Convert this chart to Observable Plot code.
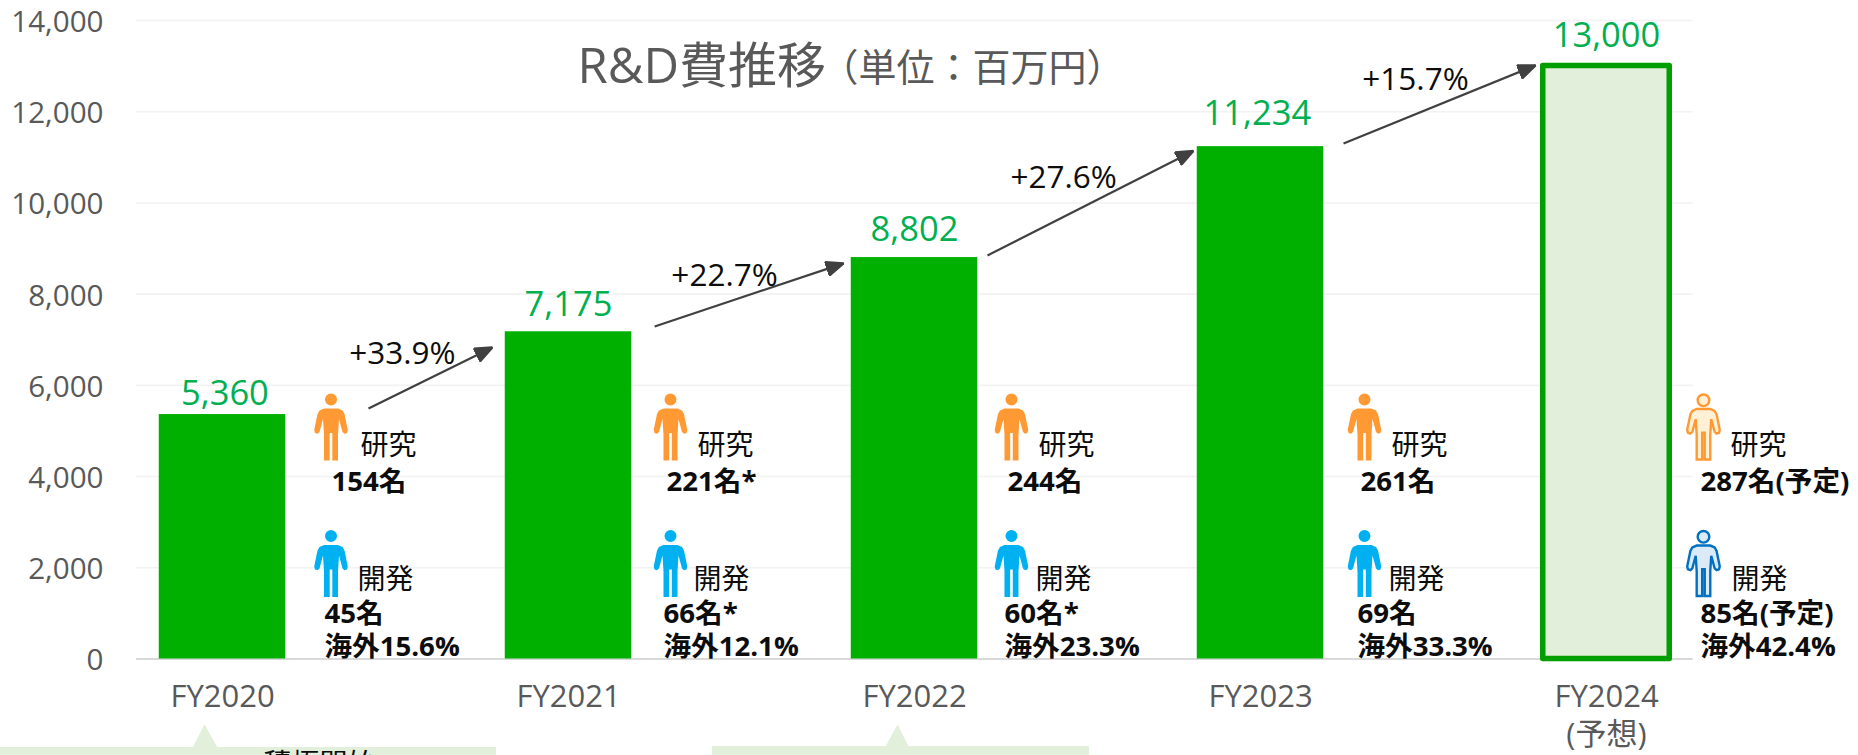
<!DOCTYPE html>
<html lang="ja">
<head>
<meta charset="utf-8">
<script src="https://cdn.jsdelivr.net/npm/d3@7"></script>
<script src="https://cdn.jsdelivr.net/npm/@observablehq/plot@0.6"></script>
<style>
html,body{margin:0;padding:0;background:#fff;overflow:hidden}
svg{display:block}
</style>
</head>
<body>
<div id="chart"></div>
<script>
const yearLabels = ["FY2020","FY2021","FY2022","FY2023","FY2024\n(予想)"];
const yearIndex = [0,1,2,3,4];
const rdCost = [5360,7175,8802,11234,13000];
const yTicks = [0,2000,4000,6000,8000,10000,12000,14000];
const valueLabelX = [0.007,1,2,2.991,4];
const valueLabelY = [5821,7767,9416,11958,13669];

const growthLabels = ["+33.9%","+22.7%","+27.6%","+15.7%"];
const growthLabelX = [0.520,1.451,2.431,3.448];
const growthLabelY = [6680,8410,10540,12700];
const arrowX1 = [0.422,1.249,2.211,3.240];
const arrowY1 = [5494,7292,8849,11305];
const arrowX2 = [0.780,1.795,2.806,3.795];
const arrowY2 = [6831,8674,11140,13016];

const iconX = [0.3136,1.2948,2.2803,3.3006,4.2803];
const researchIconY = 5088, devIconY = 2094;
const researchLabelX = [0.3990,1.3730,2.3586,3.3788,4.3586];
const researchCountX = [0.3150,1.2832,2.2688,3.2890,4.2717];
const devLabelX = [0.3904,1.3615,2.3499,3.3701,4.3615];
const devCountX = [0.2948,1.2746,2.2601,3.2803,4.2717];
const researchCounts = ["154名","221名*","244名","261名","287名(予定)"];
const devCounts = ["45名","66名*","60名*","69名","85名(予定)"];
const overseas = ["海外15.6%","海外12.1%","海外23.3%","海外33.3%","海外42.4%"];
const labelY = {research:4660, researchCount:3871, dev:1722, devCount:985, overseas:252};

const calloutBoxes = [
  {x1:-0.70,x2:0.7919,y1:-2300,y2:-1941},
  {x1:1.416,x2:2.506,y1:-2300,y2:-1919}
];
const calloutTips = [
  [[-0.0867,-1941],[-0.052,-1436],[-0.0145,-1941]],
  [[1.916,-1919],[1.951,-1436],[1.983,-1919]]
];
const calloutText = [{x:0.1185, y:-2335, t:"積極開始"}];

const FONT = '"Open Sans","Noto Sans CJK JP",sans-serif';
const GREY = "#595959", INK = "#0d0d0d", GREEN = "#00B000", VALUE = "#00B050";
const HALF = 0.1828;

const person = {
  draw(c, size) {
    const k = Math.sqrt(size / Math.PI) / 33.5;
    const P = (x, y) => [x * k, y * k];
    c.moveTo(6 * k, -27.5 * k);
    c.arc(0, -27.5 * k, 6 * k, 0, 2 * Math.PI);
    c.closePath();
    const pts = [[-7,-18.5],[7,-18.5],[11.5,-16.5],[13.5,-13],[16.8,3],[16,6],[13.5,6.8],[11.5,5],[8,-8],[7,8],[7,33.5],[1.3,33.5],[1.3,6],[-1.3,6],[-1.3,33.5],[-7,33.5],[-7,8],[-8,-8],[-11.5,5],[-13.5,6.8],[-16,6],[-16.8,3],[-13.5,-13],[-11.5,-16.5]];
    pts.forEach((p, i) => { const q = P(p[0], p[1]); i ? c.lineTo(q[0], q[1]) : c.moveTo(q[0], q[1]); });
    c.closePath();
  }
};

function solidArrow(color) {
  const m = document.createElementNS("http://www.w3.org/2000/svg", "marker");
  m.setAttribute("viewBox", "-18 -8 20 16");
  m.setAttribute("markerWidth", 20);
  m.setAttribute("markerHeight", 16);
  m.setAttribute("markerUnits", "userSpaceOnUse");
  m.setAttribute("refX", 0);
  m.setAttribute("refY", 0);
  m.setAttribute("orient", "auto");
  const p = document.createElementNS("http://www.w3.org/2000/svg", "path");
  p.setAttribute("d", "M0,0L-17,-7L-17,7Z");
  p.setAttribute("fill", color);
  m.appendChild(p);
  return m;
}

const bars = yearIndex.map(i => ({i, v: rdCost[i], x1: i - HALF, x2: i + HALF, lx: valueLabelX[i], ly: valueLabelY[i]}));
const icons = (y) => iconX.map((x, i) => ({x, y, i}));
const textRows = (xs, labels, y) => xs.map((x, i) => ({x, y, t: labels[i]}));
const arrows = arrowX1.map((_, i) => ({x1: arrowX1[i], y1: arrowY1[i], x2: arrowX2[i], y2: arrowY2[i]}));
const growth = growthLabels.map((t, i) => ({t, x: growthLabelX[i], y: growthLabelY[i]}));

const textOpts = {x: "x", y: "y", text: "t", textAnchor: "start", lineAnchor: "middle", fill: INK, fontSize: 28};
const boldOpts = {...textOpts, fontSize: 27.6, fontWeight: 700};
const solid = (rows, fill) => Plot.dot(rows, {x: "x", y: "y", r: 33.5, symbol: person, fill, stroke: "none"});
const hollow = (rows, fill, stroke) => Plot.dot(rows, {x: "x", y: "y", r: 32.5, symbol: person, fill, stroke, strokeWidth: 2.4});

const plot = Plot.plot({
  width: 1858,
  height: 755,
  marginTop: 20,
  marginRight: 0,
  marginBottom: 96.5,
  marginLeft: 136,
  style: {fontFamily: FONT, background: "#fff", overflow: "hidden"},
  x: {type: "linear", domain: [-0.5, 4.5], range: [49, 1779], axis: null},
  y: {domain: [0, 14000], axis: null},
  marks: [
    Plot.ruleY(yTicks.filter(d => d > 0), {x1: -0.2486, x2: 4.2506, stroke: "#F2F2F2", strokeWidth: 1.6}),
    Plot.ruleY([0], {x1: -0.2486, x2: 4.2506, stroke: "#D9D9D9", strokeWidth: 2}),
    Plot.axisY({ticks: yTicks, tickSize: 0, tickPadding: 33, fontSize: 29.6, dy: 2, fill: GREY, label: null, tickFormat: d3.format(",")}),
    Plot.axisX({ticks: yearIndex, tickSize: 0, tickPadding: 20.5, fontSize: 31, fill: GREY, label: null, lineHeight: 1.23, tickFormat: i => yearLabels[i]}),
    Plot.rect(bars.slice(0, 4), {x1: "x1", x2: "x2", y1: 0, y2: "v", fill: GREEN}),
    Plot.rect(bars.slice(4), {x1: "x1", x2: "x2", y1: 0, y2: "v", fill: "#E2EFDA", stroke: "#009E00", strokeWidth: 5.5, strokeLinejoin: "round"}),
    Plot.text(bars, {x: "lx", y: "ly", text: d => d3.format(",")(d.v), fill: VALUE, fontSize: 34.5, lineAnchor: "middle"}),
    Plot.link(arrows, {x1: "x1", y1: "y1", x2: "x2", y2: "y2", stroke: "#404040", strokeWidth: 2.2, markerEnd: solidArrow}),
    Plot.text(growth, {x: "x", y: "y", text: "t", fill: INK, fontSize: 31.5, lineAnchor: "middle"}),
    Plot.text(["R&D費推移"], {x: 1.026, y: 12983, text: d => d, textAnchor: "start", lineAnchor: "middle", fontSize: 49, fill: GREY}),
    Plot.text(["（単位：百万円）"], {x: 1.728, y: 12950, text: d => d, textAnchor: "start", lineAnchor: "middle", fontSize: 38, fill: GREY}),
    solid(icons(researchIconY).slice(0, 4), "#FF9933"),
    hollow(icons(researchIconY).slice(4), "#FFF0D6", "#FF9933"),
    solid(icons(devIconY).slice(0, 4), "#00B0F0"),
    hollow(icons(devIconY).slice(4), "#DCE9F6", "#0070C0"),
    Plot.text(researchLabelX.map(x => ({x, y: labelY.research, t: "研究"})), textOpts),
    Plot.text(textRows(researchCountX, researchCounts, labelY.researchCount), boldOpts),
    Plot.text(devLabelX.map(x => ({x, y: labelY.dev, t: "開発"})), textOpts),
    Plot.text(textRows(devCountX, devCounts, labelY.devCount), boldOpts),
    Plot.text(textRows(devCountX, overseas, labelY.overseas), boldOpts),
    Plot.rect(calloutBoxes, {x1: "x1", x2: "x2", y1: "y1", y2: "y2", fill: "#E2EFDA"}),
    ...calloutTips.map(t => Plot.line(t, {x: d => d[0], y: d => d[1], fill: "#E2EFDA", stroke: "none"})),
    Plot.text(calloutText, {...textOpts})
  ]
});
document.getElementById("chart").appendChild(plot);
</script>
</body>
</html>
